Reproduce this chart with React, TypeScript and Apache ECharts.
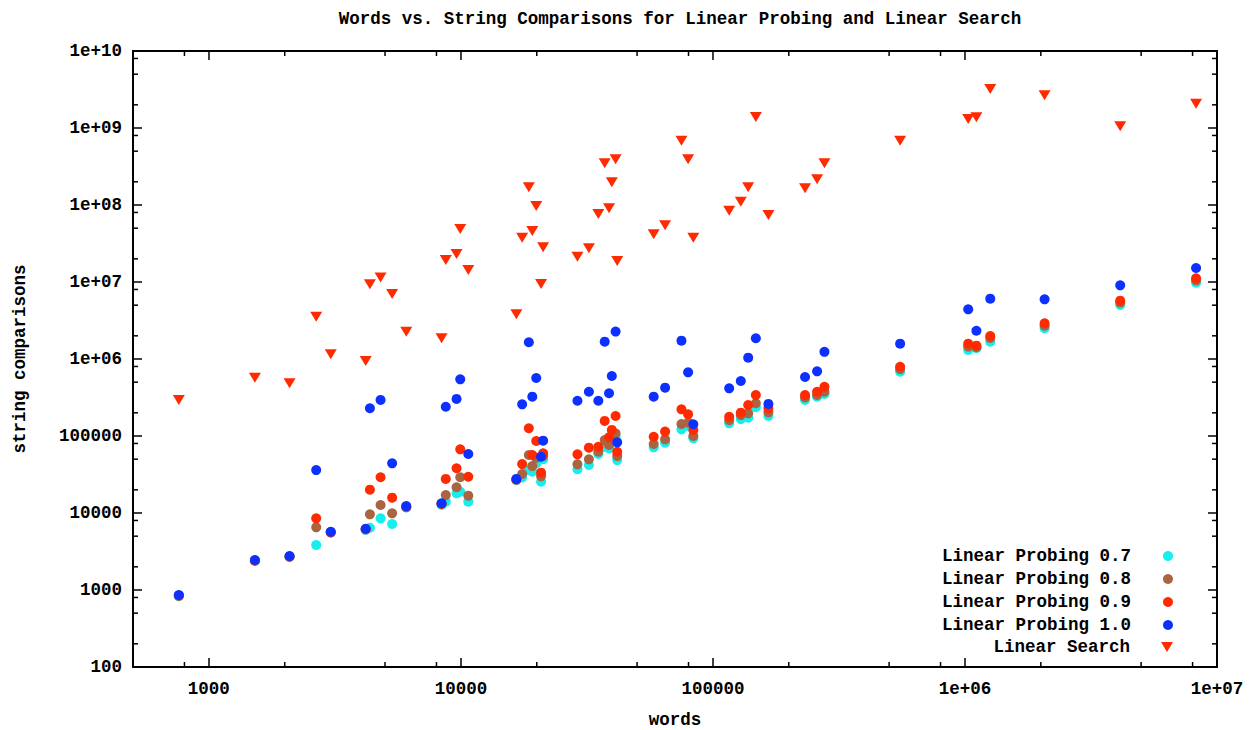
import React, { useEffect, useRef } from 'react';
import * as echarts from 'echarts';

// words (x) shared by all series
const words = [760, 1523, 2090, 2666, 3045, 4190, 4355, 4800, 5335, 6070, 8380, 8710, 9610, 9940, 10700, 16600, 17500, 18600, 19200, 19900, 20800, 21200, 29000, 32200, 35100, 37200, 38700, 39700, 41100, 41700, 58200, 64600, 75000, 79700, 83600, 116000, 129000, 138000, 148000, 166000, 232000, 259000, 277000, 553000, 1030000, 1110000, 1260000, 2070000, 4130000, 8260000];

const linearProbing07 = [830, 2380, 2680, 3840, 5550, 6050, 6440, 8530, 7200, 11800, 12800, 14000, 18000, 18900, 14000, 26600, 29000, 36100, 34400, 44000, 25500, 50000, 37000, 42000, 58300, 72600, 69200, 90000, 98000, 48700, 71300, 81800, 122000, 135000, 93300, 146000, 166000, 173000, 236000, 182000, 294000, 324000, 351000, 684000, 1310000, 1380000, 1680000, 2510000, 5030000, 9790000];

const linearProbing08 = [840, 2400, 2700, 6520, 5600, 6100, 9620, 12700, 9900, 11900, 13000, 17100, 21600, 29100, 16800, 27000, 32100, 56600, 40700, 52000, 29900, 55000, 42900, 49800, 62500, 88700, 76400, 100000, 108000, 54900, 78700, 90600, 143000, 149000, 100000, 160000, 187000, 197000, 266000, 203000, 316000, 341000, 376000, 740000, 1450000, 1420000, 1880000, 2700000, 5400000, 10500000];

const linearProbing09 = [850, 2420, 2730, 8530, 5650, 6180, 20100, 29100, 15800, 12100, 13200, 27700, 38100, 67100, 29600, 27300, 43200, 126000, 56600, 86100, 33400, 59500, 57800, 70500, 72600, 157000, 96100, 120000, 182000, 62500, 97900, 114000, 222000, 191000, 120000, 178000, 201000, 253000, 341000, 229000, 341000, 376000, 436000, 794000, 1580000, 1490000, 1990000, 2910000, 5720000, 11200000];

const linearProbing10 = [861, 2455, 2766, 36100, 5710, 6250, 229000, 294000, 44200, 12300, 13400, 240000, 303000, 544000, 58300, 27700, 258000, 1650000, 324000, 566000, 53800, 86900, 287000, 376000, 287000, 1680000, 359000, 601000, 2270000, 82800, 324000, 424000, 1730000, 671000, 142000, 416000, 518000, 1040000, 1860000, 261000, 583000, 692000, 1240000, 1580000, 4420000, 2330000, 6070000, 5960000, 9060000, 15200000];

const linearSearch = [294000, 571000, 483000, 3540000, 1150000, 942000, 9330000, 11400000, 6980000, 2260000, 1860000, 19300000, 23100000, 48800000, 14300000, 3810000, 37600000, 170000000, 45900000, 97000000, 9420000, 28200000, 21300000, 27400000, 76400000, 348000000, 90600000, 197000000, 393000000, 18700000, 41600000, 54500000, 684000000, 393000000, 37600000, 84300000, 110000000, 170000000, 1390000000, 74100000, 165000000, 216000000, 348000000, 684000000, 1310000000, 1380000000, 3210000000, 2660000000, 1050000000, 2070000000];

const seriesNames = ['Linear Probing 0.7', 'Linear Probing 0.8', 'Linear Probing 0.9', 'Linear Probing 1.0', 'Linear Search'];
const seriesColors = ['#14eeee', '#ab6440', '#ff2a00', '#0c30ff', '#ff2a00'];

const X_MIN = 500;
const X_MAX = 10000000;
const Y_MIN = 100;
const Y_MAX = 10000000000;

const xMinorTicks = [800, 2000, 5000, 8000, 20000, 50000, 80000, 200000, 500000, 800000, 2000000, 5000000, 8000000];
const yMinorTicks = [200, 500, 800, 2000, 5000, 8000, 20000, 50000, 80000, 200000, 500000, 800000, 2000000, 5000000, 8000000, 20000000, 50000000, 80000000, 200000000, 500000000, 800000000, 2000000000, 5000000000, 8000000000];

const TITLE = 'Words vs. String Comparisons for Linear Probing and Linear Search';
const FONT = '"Liberation Mono", "DejaVu Sans Mono", monospace';
const TRI = 'path://M0,0 L12,0 L6,10 Z';

function fmt(v: number): string {
  const e = Math.round(Math.log10(v));
  if (v >= 999999) return '1e+' + String(e).padStart(2, '0');
  return String(Math.round(v));
}

export default function App() {
  const ref = useRef<HTMLDivElement>(null);
  useEffect(() => {
    document.body.style.margin = '0';
    const chart = echarts.init(ref.current!, null, { renderer: 'svg' });
    const font = { fontFamily: FONT, fontWeight: 'bold' as const, fontSize: 17.5, color: '#000' };
    const lineStyle = { color: '#000', width: 2 };
    const tickStyle = { show: true, inside: true, length: 9, lineStyle: { color: '#000', width: 1.5 } };
    const pts = (ys: number[]) => words.map((w, i) => [w, ys[i]]);
    const values = [linearProbing07, linearProbing08, linearProbing09, linearProbing10, linearSearch];

    const scatter = values.map((ys, k) => ({
      name: seriesNames[k],
      type: 'scatter',
      xAxisIndex: 0,
      yAxisIndex: 0,
      data: pts(ys),
      symbol: k === 4 ? TRI : 'circle',
      symbolSize: k === 4 ? [12, 10] : 10,
      itemStyle: { color: seriesColors[k], opacity: 1 },
      z: 2 + k,
    }));

    const tickSt = { stroke: '#000', lineWidth: 1.5 };
    const minorX = {
      type: 'custom',
      xAxisIndex: 0,
      yAxisIndex: 0,
      silent: true,
      clip: false,
      z: 10,
      data: xMinorTicks.map((v) => [v, Y_MIN]),
      renderItem: (params: any, api: any) => {
        const x = api.coord([api.value(0), Y_MIN])[0];
        const cs = params.coordSys;
        return {
          type: 'group',
          children: [
            { type: 'line', shape: { x1: x, y1: cs.y + cs.height, x2: x, y2: cs.y + cs.height - 5 }, style: tickSt },
            { type: 'line', shape: { x1: x, y1: cs.y, x2: x, y2: cs.y + 5 }, style: tickSt },
          ],
        };
      },
    };
    const minorY = {
      type: 'custom',
      xAxisIndex: 0,
      yAxisIndex: 0,
      silent: true,
      clip: false,
      z: 10,
      data: yMinorTicks.map((v) => [X_MIN, v]),
      renderItem: (params: any, api: any) => {
        const y = api.coord([X_MIN, api.value(1)])[1];
        const cs = params.coordSys;
        return {
          type: 'group',
          children: [
            { type: 'line', shape: { x1: cs.x, y1: y, x2: cs.x + 5, y2: y }, style: tickSt },
            { type: 'line', shape: { x1: cs.x + cs.width, y1: y, x2: cs.x + cs.width - 5, y2: y }, style: tickSt },
          ],
        };
      },
    };

    const legendCommon = {
      orient: 'vertical',
      align: 'right',
      right: 80,
      itemWidth: 12,
      itemHeight: 10,
      itemGap: 5,
      selectedMode: false,
      textStyle: { ...font, lineHeight: 18, padding: [0, 26, 0, 0] },
    };

    chart.setOption({
      animation: false,
      backgroundColor: '#fff',
      title: {
        text: TITLE,
        left: 675,
        top: 5,
        textAlign: 'center',
        textStyle: { ...font },
      },
      grid: { left: 133, right: 41, top: 51, bottom: 63, containLabel: false, outerBoundsMode: 'none' },
      legend: [
        {
          ...legendCommon,
          top: 542,
          data: seriesNames.slice(0, 4).map((n) => ({ name: n, icon: 'circle' })),
        },
        {
          ...legendCommon,
          top: 633,
          data: [{ name: seriesNames[4], icon: TRI }],
        },
      ],
      xAxis: [
        {
          type: 'log',
          logBase: 10,
          min: X_MIN,
          max: X_MAX,
          position: 'bottom',
          axisLine: { show: true, onZero: false, lineStyle },
          axisTick: tickStyle,
          axisLabel: { ...font, margin: 13, showMinLabel: false, formatter: fmt },
          splitLine: { show: false },
          name: 'words',
          nameLocation: 'middle',
          nameGap: 46,
          nameTextStyle: { ...font, lineHeight: 14 },
        },
        {
          type: 'log',
          logBase: 10,
          min: X_MIN,
          max: X_MAX,
          position: 'top',
          axisLine: { show: true, onZero: false, lineStyle },
          axisTick: tickStyle,
          axisLabel: { show: false },
          splitLine: { show: false },
        },
      ],
      yAxis: [
        {
          type: 'log',
          logBase: 10,
          min: Y_MIN,
          max: Y_MAX,
          position: 'left',
          axisLine: { show: true, onZero: false, lineStyle },
          axisTick: tickStyle,
          axisLabel: { ...font, margin: 11, formatter: fmt },
          splitLine: { show: false },
          name: 'string comparisons',
          nameLocation: 'middle',
          nameGap: 104,
          nameTextStyle: { ...font },
        },
        {
          type: 'log',
          logBase: 10,
          min: Y_MIN,
          max: Y_MAX,
          position: 'right',
          axisLine: { show: true, onZero: false, lineStyle },
          axisTick: tickStyle,
          axisLabel: { show: false },
          splitLine: { show: false },
        },
      ],
      series: [...scatter, minorX, minorY],
    });
    return () => chart.dispose();
  }, []);
  return <div ref={ref} style={{ width: 1258, height: 730 }} />;
}
